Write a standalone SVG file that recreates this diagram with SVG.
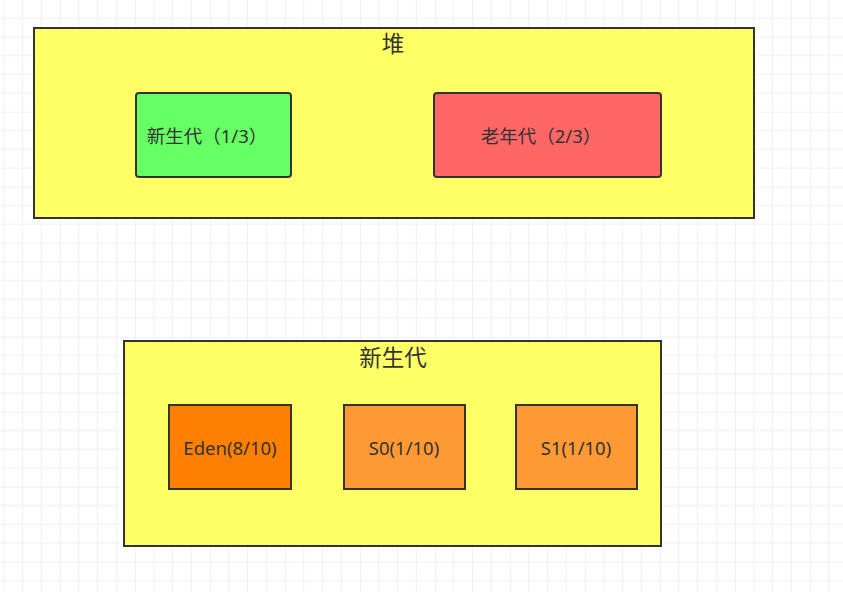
<svg xmlns="http://www.w3.org/2000/svg" width="843" height="592" viewBox="0 0 843 592">
  <defs>
    <pattern id="grid" patternUnits="userSpaceOnUse" x="60" y="36.7" width="75" height="75">
      <path d="M18.75 0V75M37.5 0V75M56.25 0V75M0 18.75H75M0 37.5H75M0 56.25H75" fill="none" stroke="#f0f0f0" stroke-width="1"/>
      <path d="M0 0V75M0 0H75" fill="none" stroke="#e3e3e3" stroke-width="1"/>
    </pattern>
  </defs>
  <style>
    .box { stroke: #333333; stroke-width: 2; }
    .t { font-family: "Segoe UI", "Noto Sans", "Noto Sans CJK SC", sans-serif; fill: #333333; text-anchor: middle; }
    .s { font-size: 18.5px; }
    .l { font-size: 22.5px; }
  </style>
  <rect width="843" height="592" fill="#ffffff"/>
  <rect width="843" height="592" fill="url(#grid)"/>
  <g id="connectors"></g>
  <g id="heap">
    <rect class="box" x="34" y="28" width="720" height="190" fill="#ffff66"/>
    <text class="t l" x="393" y="52">堆</text>
  </g>
  <g id="young">
    <rect class="box" x="136" y="93" width="155" height="84" rx="3" fill="#66ff66"/>
    <text class="t s" x="207" y="143">新生代（1/3）</text>
  </g>
  <g id="old">
    <rect class="box" x="434" y="93" width="227" height="84" rx="3" fill="#ff6666"/>
    <text class="t s" x="541" y="143">老年代（2/3）</text>
  </g>
  <g id="newgen">
    <rect class="box" x="124" y="341" width="537" height="205" fill="#ffff66"/>
    <text class="t l" x="393" y="366">新生代</text>
  </g>
  <g id="eden">
    <rect class="box" x="169" y="405" width="122" height="84" fill="#ff8000"/>
    <text class="t s" x="230" y="455">Eden(8/10)</text>
  </g>
  <g id="s0">
    <rect class="box" x="344" y="405" width="121" height="84" fill="#ff9933"/>
    <text class="t s" x="404" y="455">S0(1/10)</text>
  </g>
  <g id="s1">
    <rect class="box" x="516" y="405" width="121" height="84" fill="#ff9933"/>
    <text class="t s" x="576" y="455">S1(1/10)</text>
  </g>
</svg>
